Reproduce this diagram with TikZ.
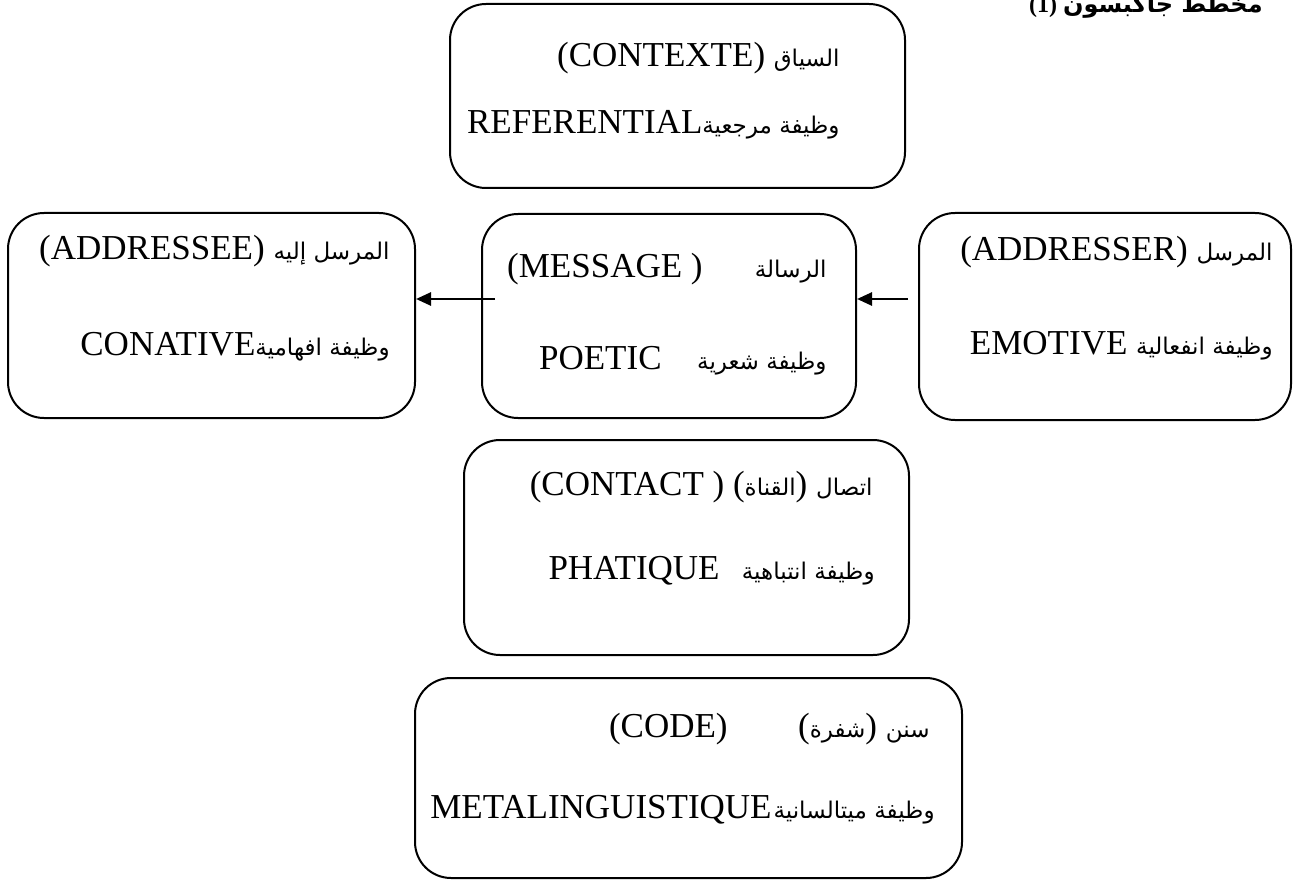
\documentclass[tikz,border=0pt]{standalone}
\usepackage{fontspec}
\setmainfont{Liberation Serif}
\newfontfamily\arfont[Script=Arabic]{DejaVu Sans}
\TeXXeTstate=1
\usetikzlibrary{arrows.meta}
\newcommand\ART[1]{{\arfont\fontsize{11.5}{15}\selectfont\beginR #1\endR}}
\newcommand\ARB[1]{{\arfont\bfseries\fontsize{12}{14}\selectfont\beginR #1\endR}}
\begin{document}
\begin{tikzpicture}[x=0.5pt,y=-0.5pt,
  box/.style={draw, line width=1pt, rounded corners=18pt, inner sep=0pt},
  lat/.style={font=\fontsize{17.5}{21}\selectfont, inner sep=0pt, anchor=base east},
  arr/.style={line width=1.3pt, -{Triangle[length=7.5pt,width=6.5pt]}}]
\useasboundingbox (0,0) rectangle (1294,882);
% title (partly cut off at the top, as in the reference)
\node[anchor=base east, inner sep=0pt, font=\bfseries\fontsize{12}{14}\selectfont] (title) at (1263,13) {(1) \ARB{مخطط جاكبسون}};
% boxes
\node[box, minimum width=227.5pt, minimum height=92pt] (ctx) at (677.5,96) {};
\node[box, minimum width=203.5pt, minimum height=102.5pt] (ade) at (211.5,315.5) {};
\node[box, minimum width=187pt, minimum height=102pt] (msg) at (669,316) {};
\node[box, minimum width=186pt, minimum height=103.5pt] (adr) at (1105,316.5) {};
\node[box, minimum width=222.5pt, minimum height=107.5pt] (cnt) at (686.5,547.5) {};
\node[box, minimum width=273.5pt, minimum height=100pt] (cod) at (688.5,778) {};
% texts
\node[lat] (ctx1) at (840,67) {(CONTEXTE) \ART{السياق}};
\node[lat] (ctx2) at (840,134) {REFERENTIAL\ART{وظيفة مرجعية}};
\node[lat] (ade1) at (390,259) {(ADDRESSEE) \ART{المرسل إليه}};
\node[lat] (ade2) at (390,355) {CONATIVE\ART{وظيفة افهامية}};
\node[lat] (msg1a) at (827,277) {\ART{الرسالة}};
\node[lat] (msg1b) at (703,277) {(MESSAGE )};
\node[lat] (msg2a) at (827,369) {\ART{وظيفة شعرية}};
\node[lat] (msg2b) at (662,369) {POETIC};
\node[lat] (adr1) at (1273,260) {(ADDRESSER) \ART{المرسل}};
\node[lat] (adr2) at (1273,354) {EMOTIVE \ART{وظيفة انفعالية}};
\node[lat] (cnt1) at (873,495) {(CONTACT ) (\ART{القناة}) \ART{اتصال}};
\node[lat] (cnt2a) at (875,579) {\ART{وظيفة انتباهية}};
\node[lat] (cnt2b) at (720,579) {PHATIQUE};
\node[lat] (cod1a) at (930,737) {(\ART{شفرة}) \ART{سنن}};
\node[lat] (cod1b) at (728,737) {(CODE)};
\node[lat] (cod2a) at (935,818) {\ART{وظيفة ميتالسانية}};
\node[lat] (cod2b) at (772,818) {METALINGUISTIQUE};
% arrows
\coordinate (m1) at (495,299);
\coordinate (a1) at (908,299);
\draw[arr] (m1) -- (m1 -| ade.east);
\draw[arr] (a1) -- (a1 -| msg.east);
\end{tikzpicture}
\end{document}
